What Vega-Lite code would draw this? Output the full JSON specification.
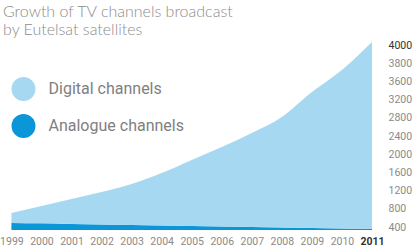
{
  "$schema": "https://vega.github.io/schema/vega-lite/v6.json",
  "autosize": "none",
  "width": 378,
  "height": 190,
  "padding": {"left": 3, "top": 40, "right": 32, "bottom": 18},
  "background": "white",
  "title": {
    "text": ["Growth of TV channels broadcast", "by Eutelsat satellites"],
    "anchor": "start",
    "frame": "group",
    "font": "Lato",
    "fontSize": 16,
    "fontWeight": 300,
    "lineHeight": 18,
    "color": "#8c8c8c",
    "offset": 2
  },
  "data": {
    "values": [
      {"year": 1999, "series": "Analogue channels", "channels": 490},
      {"year": 2000, "series": "Analogue channels", "channels": 480},
      {"year": 2001, "series": "Analogue channels", "channels": 465},
      {"year": 2002, "series": "Analogue channels", "channels": 455},
      {"year": 2003, "series": "Analogue channels", "channels": 445},
      {"year": 2004, "series": "Analogue channels", "channels": 435},
      {"year": 2005, "series": "Analogue channels", "channels": 420},
      {"year": 2006, "series": "Analogue channels", "channels": 410},
      {"year": 2007, "series": "Analogue channels", "channels": 400},
      {"year": 2008, "series": "Analogue channels", "channels": 330},
      {"year": 2009, "series": "Analogue channels", "channels": 270},
      {"year": 2010, "series": "Analogue channels", "channels": 200},
      {"year": 2011, "series": "Analogue channels", "channels": 130},
      {"year": 1999, "series": "Digital channels", "channels": 218},
      {"year": 2000, "series": "Digital channels", "channels": 382},
      {"year": 2001, "series": "Digital channels", "channels": 550},
      {"year": 2002, "series": "Digital channels", "channels": 714},
      {"year": 2003, "series": "Digital channels", "channels": 900},
      {"year": 2004, "series": "Digital channels", "channels": 1152},
      {"year": 2005, "series": "Digital channels", "channels": 1453},
      {"year": 2006, "series": "Digital channels", "channels": 1748},
      {"year": 2007, "series": "Digital channels", "channels": 2066},
      {"year": 2008, "series": "Digital channels", "channels": 2488},
      {"year": 2009, "series": "Digital channels", "channels": 3097},
      {"year": 2010, "series": "Digital channels", "channels": 3525},
      {"year": 2011, "series": "Digital channels", "channels": 3903}
    ]
  },
  "mark": {"type": "area", "interpolate": "monotone", "opacity": 1},
  "encoding": {
    "x": {
      "field": "year",
      "type": "quantitative",
      "scale": {"domain": [1998.72, 2011.3], "nice": false, "zero": false},
      "axis": {
        "title": null,
        "values": [1999, 2000, 2001, 2002, 2003, 2004, 2005, 2006, 2007, 2008, 2009, 2010, 2011],
        "format": "d",
        "grid": false,
        "ticks": false,
        "domain": false,
        "labelPadding": 6,
        "labelFont": "Roboto",
        "labelFontSize": 10.5,
        "labelColor": {"condition": {"test": "datum.value == 2011", "value": "#333333"}, "value": "#8a8a8a"},
        "labelFontWeight": {"condition": {"test": "datum.value == 2011", "value": "bold"}, "value": "normal"}
      }
    },
    "y": {
      "field": "channels",
      "type": "quantitative",
      "stack": "zero",
      "scale": {"domain": [0, 400, 3600, 4000], "range": [190, 187, 41.4, 5], "nice": false, "zero": false},
      "axis": {
        "title": null,
        "orient": "right",
        "values": [400, 800, 1200, 1600, 2000, 2400, 2800, 3200, 3600, 3800, 4000],
        "format": "d",
        "grid": false,
        "ticks": false,
        "domain": false,
        "labelPadding": 7,
        "labelFont": "Roboto",
        "labelFontSize": 10.5,
        "labelColor": {"condition": {"test": "datum.value == 4000", "value": "#333333"}, "value": "#8a8a8a"},
        "labelBaseline": "middle"
      }
    },
    "color": {
      "field": "series",
      "type": "nominal",
      "scale": {"domain": ["Digital channels", "Analogue channels"], "range": ["#a6d9f1", "#0a96d7"]},
      "legend": {
        "title": null,
        "orient": "none",
        "legendX": 8.5,
        "legendY": 37,
        "symbolType": "circle",
        "symbolSize": 573,
        "symbolStrokeWidth": 0,
        "symbolOpacity": 1,
        "labelFont": "Roboto",
        "labelFontSize": 16,
        "labelColor": "#808080",
        "labelOffset": 13,
        "rowPadding": 13
      }
    },
    "order": {"field": "series", "sort": "ascending"}
  },
  "config": {"view": {"stroke": null}}
}
